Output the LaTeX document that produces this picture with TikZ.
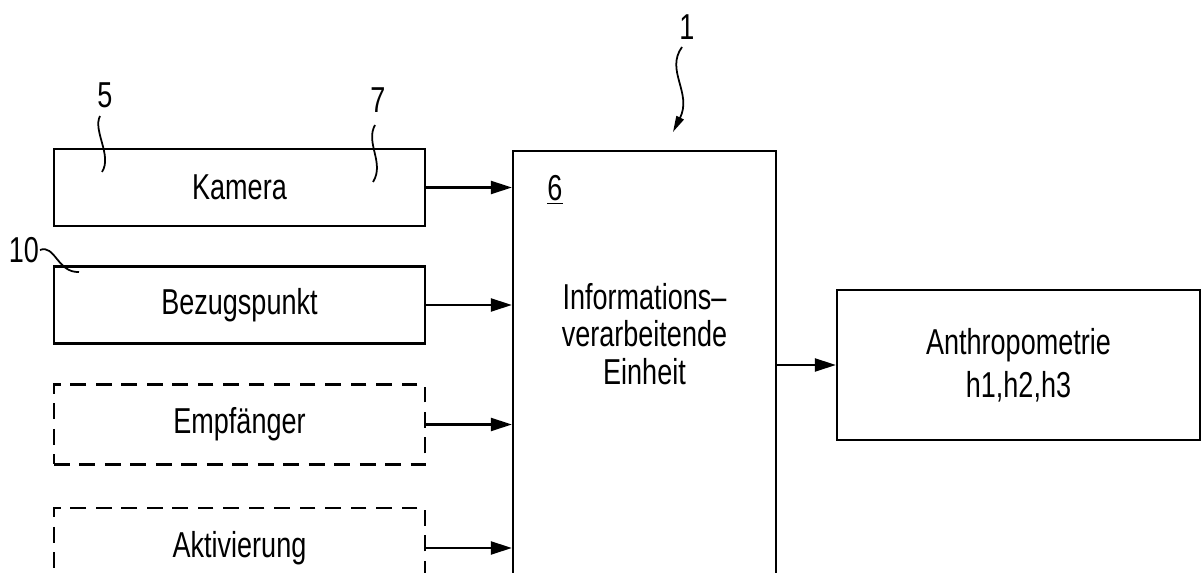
\documentclass[tikz,border=0pt]{standalone}
\usepackage{fontspec}
\setmainfont{Liberation Sans}[FakeStretch=0.75]
\usetikzlibrary{arrows.meta}

\tikzset{
  box/.style={draw, line width=1.3pt, minimum width=7.42cm, minimum height=1.54cm},
  dashbox/.style={box, dash pattern=on 9pt off 5.5pt, minimum height=1.6cm},
  conn/.style={line width=1.3pt, -{Triangle[length=0.42cm,width=0.26cm]}},
  leader/.style={line width=1pt},
}

\begin{document}
\begin{tikzpicture}[font=\fontsize{20.5}{21.5}\selectfont]

\useasboundingbox (0,0) rectangle (24.06,11.46);
\clip (0,0) rectangle (24.06,11.46);

% Input blocks
\node[box] (kamera) at (4.79,7.71) {Kamera};
\node[box] (bezug) at (4.79,5.36) {Bezugspunkt};
\node[dashbox] (empf) at (4.79,2.97) {Empfänger};
\node[dashbox] (aktiv) at (4.79,0.50) {Aktivierung};

% Processing unit
\node[box, minimum width=5.26cm, minimum height=8.94cm] (unit) at (12.89,3.97) {};
\node[align=center] (unittext) at (12.89,4.78) {Informations–\\verarbeitende\\Einheit};
\node (six) at (11.10,7.66) {\underline{6}};

% Output block
\node[box, minimum width=7.26cm, minimum height=3.0cm, align=center,
  font=\fontsize{20.5}{24.4}\selectfont] (anthro) at (20.37,4.16) {Anthropometrie\\h1,h2,h3};

% Connections
\draw[conn] (kamera.east) -- (kamera.east -| unit.west);
\draw[conn] (bezug.east) -- (bezug.east -| unit.west);
\draw[conn] (empf.east) -- (empf.east -| unit.west);
\draw[conn] (aktiv.east) -- (aktiv.east -| unit.west);
\draw[conn] (unit.east |- anthro.west) -- (anthro.west);

% Reference numerals
\node (n1) at (13.74,10.92) {1};
\node (n5) at (2.10,9.56) {5};
\node (n7) at (7.56,9.46) {7};
\node (n10) at (0.48,6.46) {10};

\draw[leader, -{Triangle[length=0.32cm,width=0.16cm]}] (13.64,10.52) .. controls (13.3,10.05) and (13.85,9.6) .. (13.46,8.82);
\draw[leader] (2.00,9.14) .. controls (1.85,8.85) and (2.25,8.35) .. (2.04,8.02);
\draw[leader] (7.50,8.96) .. controls (7.3,8.6) and (7.7,8.2) .. (7.46,7.82);
\draw[leader] (0.80,6.46) .. controls (1.1,6.58) and (1.15,6.0) .. (1.58,6.02);

\end{tikzpicture}
\end{document}
